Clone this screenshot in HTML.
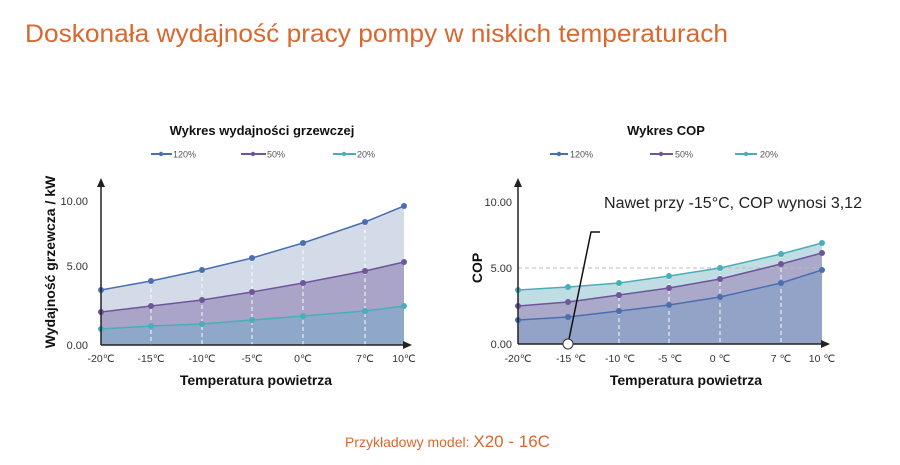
<!DOCTYPE html>
<html><head><meta charset="utf-8"><style>
html,body{margin:0;padding:0;background:#fff;}
svg{display:block;font-family:"Liberation Sans",sans-serif;}
</style></head><body>
<svg width="900" height="465" viewBox="0 0 900 465" xmlns="http://www.w3.org/2000/svg">
<text x="25" y="42" font-size="25" fill="#d9672f" textLength="703" lengthAdjust="spacingAndGlyphs">Doskonała wydajność pracy pompy w niskich temperaturach</text>

<!-- LEFT CHART -->
<text x="262" y="135" font-size="13" font-weight="bold" text-anchor="middle" fill="#111">Wykres wydajności grzewczej</text>
<g font-size="9" fill="#555">
<line x1="151" y1="154" x2="172" y2="154" stroke="#4a6fb0" stroke-width="2"/><circle cx="161" cy="154" r="2.2" fill="#4a6fb0"/><text x="173" y="157.5">120%</text>
<line x1="241" y1="154" x2="266" y2="154" stroke="#6f559a" stroke-width="2"/><circle cx="253" cy="154" r="2.2" fill="#6f559a"/><text x="267" y="157.5">50%</text>
<line x1="333" y1="154" x2="356" y2="154" stroke="#4aaeb8" stroke-width="2"/><circle cx="344" cy="154" r="2.2" fill="#4aaeb8"/><text x="357" y="157.5">20%</text>
</g>
<polygon points="101,345 101,290 151,281 202,270 252,258 303,243 365,222 404,206 404,345" fill="#d4dbe8"/>
<polygon points="101,345 101,312 151,306 202,300 252,292 303,283 365,271 404,262 404,345" fill="#aaa4c8"/>
<polygon points="101,345 101,329 151,326 202,324 252,320 303,316 365,311 404,306 404,345" fill="#8fa7c9"/>
<g stroke="#fff" stroke-width="1.2" stroke-dasharray="4,3" opacity="0.8">
<line x1="151" y1="281" x2="151" y2="345"/><line x1="202" y1="270" x2="202" y2="345"/><line x1="252" y1="258" x2="252" y2="345"/><line x1="303" y1="243" x2="303" y2="345"/><line x1="365" y1="222" x2="365" y2="345"/>
</g>
<polyline points="101,290 151,281 202,270 252,258 303,243 365,222 404,206" fill="none" stroke="#4a6fb0" stroke-width="1.5"/>
<polyline points="101,312 151,306 202,300 252,292 303,283 365,271 404,262" fill="none" stroke="#6f559a" stroke-width="1.5"/>
<polyline points="101,329 151,326 202,324 252,320 303,316 365,311 404,306" fill="none" stroke="#4aaeb8" stroke-width="1.5"/>
<g fill="#4a6fb0"><circle cx="101" cy="290" r="3"/><circle cx="151" cy="281" r="3"/><circle cx="202" cy="270" r="3"/><circle cx="252" cy="258" r="3"/><circle cx="303" cy="243" r="3"/><circle cx="365" cy="222" r="3"/><circle cx="404" cy="206" r="3"/></g>
<g fill="#6f559a"><circle cx="101" cy="312" r="3"/><circle cx="151" cy="306" r="3"/><circle cx="202" cy="300" r="3"/><circle cx="252" cy="292" r="3"/><circle cx="303" cy="283" r="3"/><circle cx="365" cy="271" r="3"/><circle cx="404" cy="262" r="3"/></g>
<g fill="#4aaeb8"><circle cx="101" cy="329" r="3"/><circle cx="151" cy="326" r="3"/><circle cx="202" cy="324" r="3"/><circle cx="252" cy="320" r="3"/><circle cx="303" cy="316" r="3"/><circle cx="365" cy="311" r="3"/><circle cx="404" cy="306" r="3"/></g>
<line x1="101" y1="345" x2="101" y2="184" stroke="#222" stroke-width="1.5"/>
<polygon points="101,178 97,187 105,187" fill="#222"/>
<line x1="101" y1="345" x2="406" y2="345" stroke="#222" stroke-width="1.5"/>
<polygon points="412,345 403,341 403,349" fill="#222"/>
<g font-size="11" fill="#333" text-anchor="end">
<text x="88" y="205">10.00</text><text x="88" y="270">5.00</text><text x="88" y="349">0.00</text>
</g>
<g font-size="10.5" fill="#333" text-anchor="middle">
<text x="101" y="362">-20℃</text><text x="151" y="362">-15℃</text><text x="202" y="362">-10℃</text><text x="252" y="362">-5℃</text><text x="303" y="362">0℃</text><text x="365" y="362">7℃</text><text x="404" y="362">10℃</text>
</g>
<text x="256" y="385" font-size="14" font-weight="bold" text-anchor="middle" fill="#111">Temperatura powietrza</text>
<text transform="translate(55,262) rotate(-90)" font-size="14" font-weight="bold" text-anchor="middle" fill="#111">Wydajność grzewcza / kW</text>

<!-- RIGHT CHART -->
<text x="666" y="135" font-size="13" font-weight="bold" text-anchor="middle" fill="#111">Wykres COP</text>
<g font-size="9" fill="#555">
<line x1="550" y1="154" x2="568" y2="154" stroke="#4a6fb0" stroke-width="2"/><circle cx="559" cy="154" r="2.2" fill="#4a6fb0"/><text x="570" y="157.5">120%</text>
<line x1="650" y1="154" x2="673" y2="154" stroke="#6f559a" stroke-width="2"/><circle cx="661" cy="154" r="2.2" fill="#6f559a"/><text x="675" y="157.5">50%</text>
<line x1="735" y1="154" x2="757" y2="154" stroke="#4aaeb8" stroke-width="2"/><circle cx="746" cy="154" r="2.2" fill="#4aaeb8"/><text x="760" y="157.5">20%</text>
</g>
<polygon points="518,344 518,290 568,287 619,283 669,276 720,268 781,254 822,243 822,344" fill="#bfdde2"/>
<polygon points="518,344 518,306 568,302 619,295 669,288 720,279 781,264 822,253 822,344" fill="#aaa9ca"/>
<polygon points="518,344 518,320 568,317 619,311 669,305 720,297 781,283 822,270 822,344" fill="#93a3c8"/>
<line x1="518" y1="268" x2="822" y2="268" stroke="#bbb" stroke-width="1" stroke-dasharray="4,3"/>
<g stroke="#fff" stroke-width="1.2" stroke-dasharray="4,3" opacity="0.8">
<line x1="619" y1="283" x2="619" y2="344"/><line x1="669" y1="276" x2="669" y2="344"/><line x1="720" y1="268" x2="720" y2="344"/><line x1="781" y1="254" x2="781" y2="344"/>
</g>
<polyline points="518,290 568,287 619,283 669,276 720,268 781,254 822,243" fill="none" stroke="#4aaeb8" stroke-width="1.5"/>
<polyline points="518,306 568,302 619,295 669,288 720,279 781,264 822,253" fill="none" stroke="#6f559a" stroke-width="1.5"/>
<polyline points="518,320 568,317 619,311 669,305 720,297 781,283 822,270" fill="none" stroke="#4a6fb0" stroke-width="1.5"/>
<g fill="#4aaeb8"><circle cx="518" cy="290" r="3"/><circle cx="568" cy="287" r="3"/><circle cx="619" cy="283" r="3"/><circle cx="669" cy="276" r="3"/><circle cx="720" cy="268" r="3"/><circle cx="781" cy="254" r="3"/><circle cx="822" cy="243" r="3"/></g>
<g fill="#6f559a"><circle cx="518" cy="306" r="3"/><circle cx="568" cy="302" r="3"/><circle cx="619" cy="295" r="3"/><circle cx="669" cy="288" r="3"/><circle cx="720" cy="279" r="3"/><circle cx="781" cy="264" r="3"/><circle cx="822" cy="253" r="3"/></g>
<g fill="#4a6fb0"><circle cx="518" cy="320" r="3"/><circle cx="568" cy="317" r="3"/><circle cx="619" cy="311" r="3"/><circle cx="669" cy="305" r="3"/><circle cx="720" cy="297" r="3"/><circle cx="781" cy="283" r="3"/><circle cx="822" cy="270" r="3"/></g>
<line x1="518" y1="344" x2="518" y2="184" stroke="#222" stroke-width="1.5"/>
<polygon points="518,178 514,187 522,187" fill="#222"/>
<line x1="518" y1="344" x2="824" y2="344" stroke="#222" stroke-width="1.5"/>
<polygon points="830,344 821,340 821,348" fill="#222"/>
<polyline points="568,344 591,232 600,232" fill="none" stroke="#111" stroke-width="1.5"/>
<circle cx="568" cy="344" r="5" fill="#fff" stroke="#333" stroke-width="1"/>
<text x="604" y="208" font-size="15.5" fill="#222" textLength="258" lengthAdjust="spacingAndGlyphs">Nawet przy -15°C, COP wynosi 3,12</text>
<g font-size="11" fill="#333" text-anchor="end">
<text x="512" y="206">10.00</text><text x="512" y="272">5.00</text><text x="512" y="348">0.00</text>
</g>
<g font-size="10.5" fill="#333" text-anchor="middle">
<text x="518" y="362">-20℃</text><text x="571" y="362">-15 ℃</text><text x="620" y="362">-10 ℃</text><text x="670" y="362">-5 ℃</text><text x="720" y="362">0 ℃</text><text x="781" y="362">7 ℃</text><text x="822" y="362">10 ℃</text>
</g>
<text x="686" y="385" font-size="14" font-weight="bold" text-anchor="middle" fill="#111">Temperatura powietrza</text>
<text transform="translate(482,268) rotate(-90)" font-size="14" font-weight="bold" text-anchor="middle" fill="#111">COP</text>

<text x="345" y="447" font-size="14" fill="#d9672f">Przykładowy model: <tspan font-size="17">X20 - 16C</tspan></text>
</svg>
</body></html>
